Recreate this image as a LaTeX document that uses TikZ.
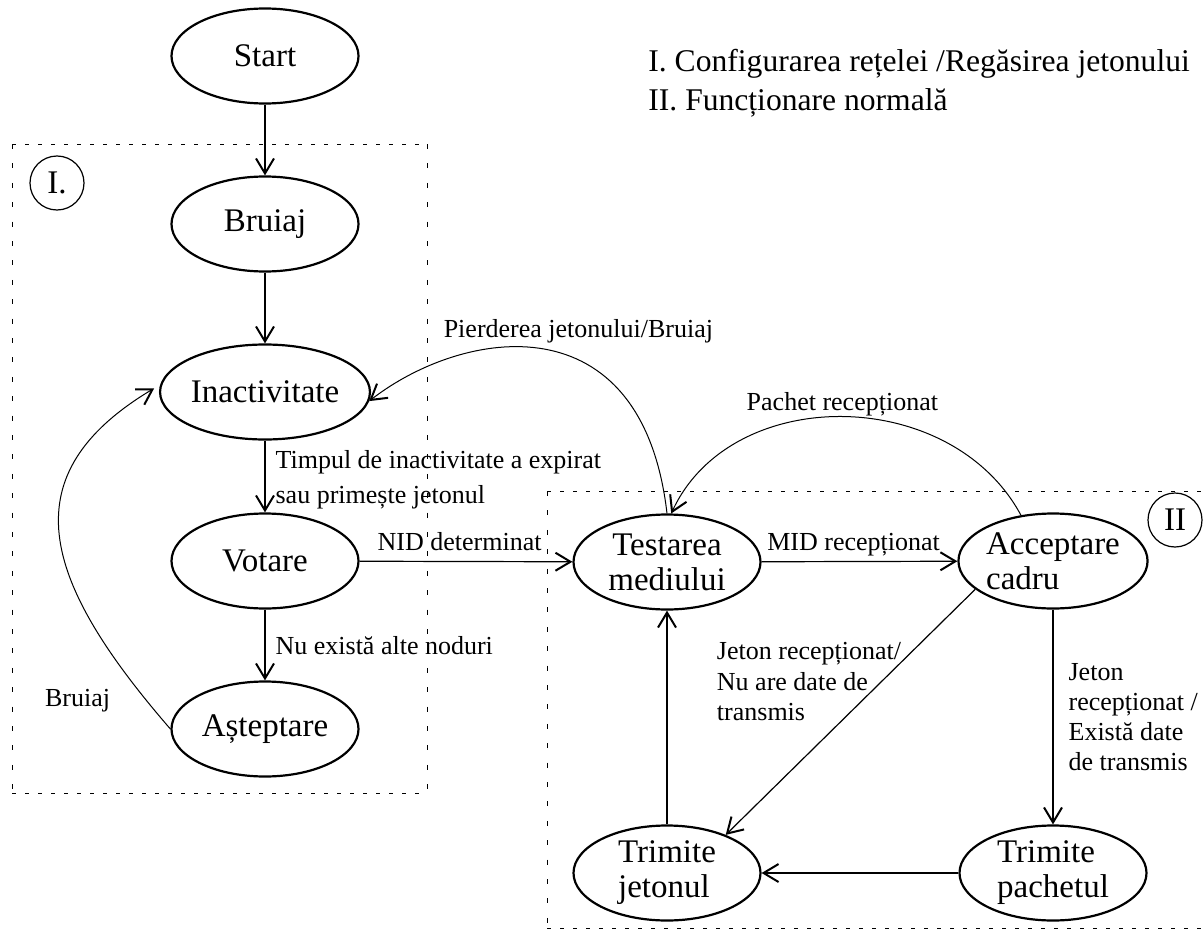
\documentclass[tikz,border=0pt]{standalone}
\usepackage{fontspec}
\setmainfont{Liberation Serif}
\usetikzlibrary{shapes.geometric,arrows.meta}

\tikzset{
  state/.style={ellipse, draw, line width=1.1pt, minimum width=93.5pt,
    minimum height=47.5pt, inner sep=0pt, font=\fontsize{16.5}{17.5}\selectfont},
  zone/.style={circle, draw, line width=0.6pt, minimum size=27pt, inner sep=0pt,
    font=\fontsize{16.5}{17.5}\selectfont},
  trans/.style={-{Straight Barb[length=7.5pt,width=9pt,line width=1pt]}, line width=0.6pt},
  lbl/.style={font=\fontsize{13}{15.5}\selectfont, inner sep=2pt, text depth=0pt, align=left},
  legend/.style={anchor=base west, inner sep=0pt, font=\fontsize{15.8}{19}\selectfont},
  hdash/.style={line width=0.5pt, dash pattern=on 2pt off 4.5pt},
  vdash/.style={line width=0.5pt, dash pattern=on 2.5pt off 7.2pt},
}

\begin{document}
\begin{tikzpicture}[x=0.5pt, y=-0.5pt]
\useasboundingbox (0,0) rectangle (1204,931);

% zonele I si II
\draw[hdash] (12,144) -- (427,144);
\draw[hdash] (12,793) -- (427,793);
\draw[vdash] (12,144) -- (12,793);
\draw[vdash] (427,144) -- (427,793);
\draw[hdash] (547,491) -- (1204,491);
\draw[hdash] (547,928) -- (1204,928);
\draw[vdash] (547,491) -- (547,928);

\node[zone] (zoneI) at (57,183) {I.};
\node[zone] (zoneII) at (1175,520) {II};

% legenda
\node[legend] (legI) at (648,72) {I. Configurarea rețelei /Regăsirea jetonului};
\node[legend] (legII) at (648,111) {II. Funcționare normală};

% stari
\node[state] (start) at (265,56) {Start};
\node[state] (bruiaj) at (265,224) {Bruiaj};
\node[state] (inact) at (265,392) {Inactivitate};
\node[state] (votare) at (265,561) {Votare};
\node[state] (astept) at (265,729) {Așteptare};
\node[state, align=center] (test) at (667,562) {Testarea\\mediului};
\node[state, align=left] (accept) at (1053,561) {Acceptare\\cadru};
\node[state, align=left] (trjet) at (667,873) {Trimite\\jetonul};
\node[state, align=left] (trpach) at (1053,873) {Trimite\\pachetul};

% tranzitii
\draw[trans] (start) -- (bruiaj);
\draw[trans] (bruiaj) -- (inact);
\draw[trans] (inact) -- node[lbl, right=3pt, font=\fontsize{13}{17.5}\selectfont] (lTimp)
  {Timpul de inactivitate a expirat\\sau primește jetonul} (votare);
\draw[trans] (votare) -- node[lbl, right=3pt] (lNoduri) {Nu există alte noduri} (astept);
\draw[trans] (votare) -- node[lbl, above=3pt, pos=0.47] (lNid) {NID determinat} (test);
\draw[trans] (test) -- node[lbl, above=3pt, pos=0.47] (lMid) {MID recepționat} (accept);
\draw[trans] (accept.200) -- node[lbl, anchor=east, pos=0.375, xshift=12pt,
  font=\fontsize{13}{15.25}\selectfont] (lNuDate)
  {Jeton recepționat/\\Nu are date de\\transmis} (trjet.33);
\draw[trans] (accept) -- node[lbl, right=5.5pt, font=\fontsize{13}{15}\selectfont] (lExista)
  {Jeton\\recepționat /\\Există date\\de transmis} (trpach);
\draw[trans] (trpach) -- (trjet);
\draw[trans] (trjet) -- (test);

% arce
\draw[trans, line width=0.5pt] (test.north) .. controls +(-25,-215) and +(94,-73) .. (inact.-5)
  node[lbl, pos=0.4, above=9pt] (lPierdere) {Pierderea jetonului/Bruiaj};
\draw[trans, line width=0.5pt] (accept.125) .. controls +(-70,-130) and +(60,-130) .. (test.85)
  node[lbl, pos=0.5, above=1pt] (lPachet) {Pachet recepționat};
\draw[trans, line width=0.5pt, shorten >=3.5pt] (astept.west) .. controls +(-130,-150) and +(-150,90) .. (inact.176)
  node[lbl, pos=0.07, left=15pt] (lBruiaj) {Bruiaj};
\end{tikzpicture}
\end{document}
